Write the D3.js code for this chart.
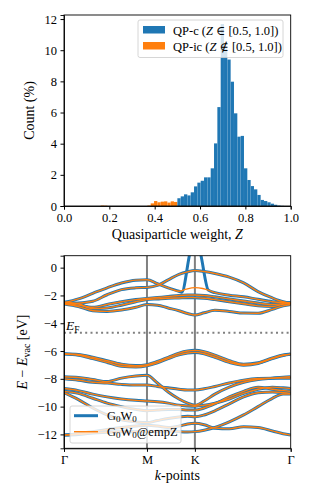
<!DOCTYPE html>
<meta charset="utf-8">
<head>
  <script src="https://d3js.org/d3.v7.min.js"></script>
  <style>
    body { margin: 0; background: white; }
    text { font-family: "Liberation Serif", "DejaVu Serif", serif; fill: black; }
  </style>
</head>
<body>
  <div id="chart"></div>
  <script>
    // ---- histogram data (percent of quasiparticles per Z bin) ----
    var binWidth = 0.0147;
    var qpcStart = 0.5;
    var qpcCounts = [0.5, 0.62, 0.75, 0.68, 0.88, 1.26, 1.5, 1.62, 1.84, 1.84, 2.42, 4.02, 6.35,
      11.68, 10.1, 9.4, 7.98, 5.95, 4.45, 4.5, 2.42, 1.67, 1.28, 1.07, 0.71, 0.39, 0.32, 0.24,
      0.15, 0.08, 0.03, 0.01];
    var qpicStart = 0.5 - 23 * 0.0147;
    var qpicCounts = [0.03, 0.02, 0, 0, 0, 0, 0, 0, 0, 0, 0, 0, 0, 0, 0.03,
      0.17, 0.32, 0.24, 0.28, 0.30, 0.22, 0.30, 0.26];
    var histXTicks = [0, 0.2, 0.4, 0.6, 0.8, 1.0];
    var histYTicks = [0, 2, 4, 6, 8, 10, 12];

    // ---- band structure data ----
    var kTicks = [0, 1.1547, 1.8214, 3.1547];
    var kLabels = ["Γ", "M", "K", "Γ"];
    var eTicks = [0, -2, -4, -6, -8, -10, -12];
    var fermiLevel = -4.68;
    var kGrid = [0, 0.2, 0.4, 0.6, 0.8, 1.0, 1.1547, 1.3, 1.45, 1.6, 1.72, 1.8214, 1.95, 2.1, 2.3, 2.5, 2.7, 2.9, 3.05, 3.1547];

    var bands = [
      [-2.58, -2.55, -2.42, -1.95, -1.58, -1.45, -1.42, -1.28, -0.88, -0.48, -0.3, -0.21, -0.28, -0.42, -0.68, -1.1, -1.72, -2.18, -2.45, -2.55],
      [-2.55, -2.7, -2.85, -2.65, -2.45, -2.3, -2.22, -2.15, -2.08, -2.0, -1.97, -1.97, -2.0, -2.1, -2.25, -2.4, -2.55, -2.65, -2.6, -2.58],
      [-2.48, -2.6, -2.95, -2.9, -2.7, -2.45, -2.3, -2.25, -2.2, -2.18, -2.16, -2.16, -2.2, -2.3, -2.45, -2.6, -2.75, -2.8, -2.62, -2.5],
      [-2.62, -2.8, -3.1, -3.15, -3.05, -2.85, -2.66, -2.7, -2.9, -3.1, -3.3, -3.41, -3.25, -3.07, -3.15, -3.27, -3.28, -3.0, -2.75, -2.65],
      [-6.2, -6.25, -6.45, -6.7, -6.95, -7.05, -6.98, -6.75, -6.45, -6.15, -6.0, -5.95, -6.05, -6.3, -6.7, -6.95, -6.85, -6.5, -6.28, -6.22],
      [-6.22, -6.3, -6.55, -6.82, -7.1, -7.15, -7.06, -6.85, -6.55, -6.28, -6.14, -6.1, -6.2, -6.45, -6.82, -7.02, -6.9, -6.55, -6.32, -6.24],
      [-7.85, -7.9, -8.05, -8.2, -7.95, -7.8, -7.75, -8.3, -8.95, -9.45, -9.75, -9.9, -9.6, -9.1, -8.6, -8.25, -8.05, -7.95, -7.88, -7.85],
      [-8.0, -8.1, -8.25, -8.3, -8.4, -8.45, -8.45, -8.55, -8.65, -8.75, -8.8, -8.8, -8.72, -8.55, -8.3, -8.1, -7.98, -7.95, -7.95, -7.95],
      [-8.7, -8.85, -9.1, -9.3, -9.45, -9.55, -9.6, -9.65, -9.75, -9.9, -9.95, -9.97, -9.9, -9.75, -9.45, -9.05, -8.75, -8.6, -8.65, -8.7],
      [-8.9, -9.05, -9.4, -9.75, -10.0, -10.2, -10.3, -10.25, -10.2, -10.2, -10.25, -10.25, -10.1, -9.8, -9.3, -8.9, -8.6, -8.75, -8.85, -8.9],
      [-9.0, -9.5, -10.1, -10.6, -10.95, -11.1, -11.15, -11.0, -10.85, -10.75, -10.7, -10.73, -10.6, -10.3, -9.8, -9.3, -9.0, -8.95, -9.0, -9.05],
      [-12.05, -11.95, -11.8, -11.65, -11.5, -11.4, -11.35, -11.4, -11.5, -11.4, -11.25, -11.2, -11.3, -11.55, -11.6, -11.45, -11.5, -11.75, -11.95, -12.05],
      [-12.05, -12.0, -11.9, -11.85, -11.8, -11.8, -11.8, -11.78, -11.75, -11.8, -11.82, -11.8, -11.7, -11.5, -11.1, -10.6, -10.0, -9.4, -9.1, -9.1]
    ];
    // band whose G0W0 quasiparticle diverges at K (the empZ version stays below -1.4 eV)
    var kSpecial = [0, 0.2, 0.4, 0.6, 0.8, 1.0, 1.1547, 1.3, 1.45, 1.6, 1.638, 1.744, 1.8214, 1.907, 2.009, 2.1, 2.3, 2.5, 2.7, 2.9, 3.05, 3.1547];
    var specialGW = [-2.52, -2.25, -1.85, -1.45, -1.1, -0.9, -0.87, -1.15, -1.45, -1.7, -1.77, 0.86, 2.9, 0.86, -1.62, -1.8, -1.98, -2.1, -2.28, -2.45, -2.52, -2.55];
    var kSpecialZ = [0, 0.2, 0.4, 0.6, 0.8, 1.0, 1.1547, 1.3, 1.45, 1.6, 1.7, 1.8214, 1.93, 2.009, 2.1, 2.3, 2.5, 2.7, 2.9, 3.05, 3.1547];
    var specialEmpZ = [-2.52, -2.25, -1.85, -1.45, -1.1, -0.9, -0.87, -1.15, -1.45, -1.7, -1.55, -1.44, -1.5, -1.62, -1.8, -1.98, -2.1, -2.28, -2.45, -2.52, -2.55];

    var blue = "#1f77b4", orange = "#ff7f0e";

    var svg = d3.select("#chart").append("svg")
      .attr("width", 313).attr("height", 501);

    // ================= top panel: histogram =================
    var histBox = { left: 64, right: 290.7, top: 15, bottom: 206 };
    var hx = d3.scaleLinear().domain([0, 1]).range([histBox.left, histBox.right]);
    var hy = d3.scaleLinear().domain([0, 12.26]).range([histBox.bottom, histBox.top]);

    var qpc = qpcCounts.map(function (c, i) { return { x0: qpcStart + i * binWidth, v: c }; });
    var qpic = qpicCounts.map(function (c, i) { return { x0: qpicStart + i * binWidth, v: c }; });

    var g1 = svg.append("g");
    function drawBars(data, color) {
      g1.append("g").selectAll("rect").data(data).enter().append("rect")
        .attr("x", function (d) { return hx(d.x0); })
        .attr("width", function (d) { return hx(d.x0 + binWidth) - hx(d.x0); })
        .attr("y", function (d) { return hy(d.v); })
        .attr("height", function (d) { return hy(0) - hy(d.v); })
        .attr("fill", color)
        .attr("stroke", "white").attr("stroke-opacity", 0.15).attr("stroke-width", 0.3);
    }
    drawBars(qpic, orange);
    drawBars(qpc, blue);

    g1.append("g").attr("transform", "translate(0," + histBox.bottom + ")")
      .call(d3.axisBottom(hx).tickValues(histXTicks).tickFormat(d3.format(".1f")).tickSize(3.5).tickPadding(3.5));
    g1.append("g").attr("transform", "translate(" + histBox.left + ",0)")
      .call(d3.axisLeft(hy).tickValues(histYTicks).tickFormat(d3.format("d")).tickSize(3.5).tickPadding(3.5));
    g1.append("rect").attr("x", histBox.left).attr("y", histBox.top)
      .attr("width", histBox.right - histBox.left).attr("height", histBox.bottom - histBox.top)
      .attr("fill", "none").attr("stroke", "black").attr("stroke-width", 0.9);

    g1.append("text").attr("x", (histBox.left + histBox.right) / 2).attr("y", 239)
      .attr("text-anchor", "middle").style("font-size", "14px")
      .html('Quasiparticle weight, <tspan font-style="italic">Z</tspan>');
    g1.append("text").attr("transform", "translate(34," + (histBox.top + histBox.bottom) / 2 + ") rotate(-90)")
      .attr("text-anchor", "middle").style("font-size", "14px").text("Count (%)");

    // legend
    var lg = g1.append("g");
    lg.append("rect").attr("x", 138).attr("y", 20).attr("width", 145).attr("height", 37.5)
      .attr("rx", 2).attr("fill", "white").attr("fill-opacity", 0.8)
      .attr("stroke", "#cccccc").attr("stroke-width", 0.8);
    [[blue, "QP-c (", "∈"], [orange, "QP-ic (", "∉"]].forEach(function (it, i) {
      var yy = 26 + i * 16;
      lg.append("rect").attr("x", 143).attr("y", yy).attr("width", 22).attr("height", 7.5).attr("fill", it[0]);
      lg.append("text").attr("x", 173).attr("y", yy + 8.5).style("font-size", "12.5px")
        .html(it[1] + '<tspan font-style="italic">Z</tspan> ' + it[2] + ' [0.5, 1.0])');
    });

    // ================= bottom panel: band structure =================
    var bot = { left: 64, right: 290.7, top: 255.7, bottom: 448.3 };
    var kx = d3.scaleLinear().domain([0, 3.1547]).range([bot.left, bot.right]);
    var ey = d3.scaleLinear().domain([-13.0, 0.86]).range([bot.bottom, bot.top]);

    var g2 = svg.append("g");
    g2.append("clipPath").attr("id", "clip").append("rect")
      .attr("x", bot.left).attr("y", bot.top)
      .attr("width", bot.right - bot.left).attr("height", bot.bottom - bot.top);

    var plot = g2.append("g").attr("clip-path", "url(#clip)");
    plot.selectAll(".kline").data(kTicks.slice(1, 3)).enter().append("line")
      .attr("x1", kx).attr("x2", kx).attr("y1", bot.top).attr("y2", bot.bottom)
      .attr("stroke", "#808080").attr("stroke-width", 2);
    plot.append("line").attr("x1", bot.left).attr("x2", bot.right)
      .attr("y1", ey(fermiLevel)).attr("y2", ey(fermiLevel))
      .attr("stroke", "#808080").attr("stroke-width", 2).attr("stroke-dasharray", "2,3.3");

    var line = d3.line().x(function (d) { return kx(d[0]); }).y(function (d) { return ey(d[1]); })
      .curve(d3.curveMonotoneX);
    var bandPts = bands.map(function (b) { return b.map(function (e, i) { return [kGrid[i], e]; }); });
    var specGW = specialGW.map(function (e, i) { return [kSpecial[i], e]; });
    var specZ = specialEmpZ.map(function (e, i) { return [kSpecialZ[i], e]; });

    plot.selectAll(".gw").data(bandPts.concat([specGW])).enter().append("path")
      .attr("d", line).attr("fill", "none").attr("stroke", blue).attr("stroke-width", 3);
    plot.selectAll(".ez").data(bandPts.concat([specZ])).enter().append("path")
      .attr("d", line).attr("fill", "none").attr("stroke", orange).attr("stroke-width", 1.4);

    g2.append("text").attr("x", 66).attr("y", 330).style("font-size", "13.5px")
      .html('<tspan font-style="italic">E</tspan><tspan font-size="9.5px" dy="2.5">F</tspan>');

    g2.append("g").attr("transform", "translate(0," + bot.bottom + ")")
      .call(d3.axisBottom(kx).tickValues(kTicks).tickFormat(function (d, i) { return kLabels[i]; }).tickSize(3.5).tickPadding(3.5));
    g2.append("g").attr("transform", "translate(" + bot.left + ",0)")
      .call(d3.axisLeft(ey).tickValues(eTicks).tickFormat(d3.format("d")).tickSize(3.5).tickPadding(3.5));
    g2.append("rect").attr("x", bot.left).attr("y", bot.top)
      .attr("width", bot.right - bot.left).attr("height", bot.bottom - bot.top)
      .attr("fill", "none").attr("stroke", "black").attr("stroke-width", 0.9);

    g2.append("text").attr("x", (bot.left + bot.right) / 2).attr("y", 480)
      .attr("text-anchor", "middle").style("font-size", "14px")
      .html('<tspan font-style="italic">k</tspan>-points');
    g2.append("text").attr("transform", "translate(27," + (bot.top + bot.bottom) / 2 + ") rotate(-90)")
      .attr("text-anchor", "middle").style("font-size", "14px")
      .html('<tspan font-style="italic">E</tspan> − <tspan font-style="italic">E</tspan><tspan font-size="10px" dy="3">vac</tspan><tspan dy="-3"> [eV]</tspan>');

    // legend
    var lg2 = g2.append("g");
    lg2.append("rect").attr("x", 70).attr("y", 406).attr("width", 111).attr("height", 37)
      .attr("rx", 2).attr("fill", "white").attr("fill-opacity", 0.8)
      .attr("stroke", "#cccccc").attr("stroke-width", 0.8);
    [[blue, 3, ""], [orange, 1.4, "@empZ"]].forEach(function (it, i) {
      var yy = 415.7 + i * 16;
      lg2.append("line").attr("x1", 74).attr("x2", 98).attr("y1", yy).attr("y2", yy)
        .attr("stroke", it[0]).attr("stroke-width", it[1]);
      lg2.append("text").attr("x", 107).attr("y", yy + 4.5).style("font-size", "12.5px")
        .html('G<tspan font-size="9px" dy="2">0</tspan><tspan dy="-2">W</tspan><tspan font-size="9px" dy="2">0</tspan><tspan dy="-2">' + it[2] + '</tspan>');
    });

    svg.selectAll(".tick text").style("font-size", "12.5px").style("font-family", "Liberation Serif, DejaVu Serif, serif");
    svg.selectAll(".domain").attr("stroke-width", 0.9);
  </script>
</body>
</html>
